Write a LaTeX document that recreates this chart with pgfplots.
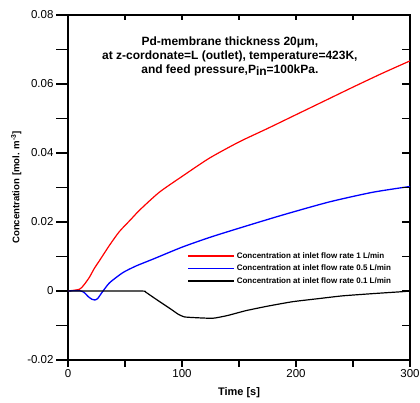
\documentclass[border=0pt]{standalone}
\usepackage{fontspec}
\setmainfont{Liberation Sans}
\usepackage{pgfplots}
\pgfplotsset{compat=1.18}

\tikzset{tickline/.style={draw=black, line width=1.2pt}}

\begin{document}
\begin{tikzpicture}
\begin{axis}[
  width=342pt, height=345pt, scale only axis,
  xmin=0, xmax=300, ymin=-0.02, ymax=0.08,
  clip=false,
  xtick={0,100,200,300},
  ytick={-0.02,0,0.02,0.04,0.06,0.08},
  xticklabels={0,100,200,300},
  yticklabels={-0.02,0,0.02,0.04,0.06,0.08},
  scaled ticks=false,
  major tick length=0pt,
  tick style={draw=none},
  axis line style={line width=1.4pt},
  ticklabel style={font=\fontsize{11.5}{13}\selectfont},
  yticklabel style={xshift=-11pt},
  xticklabel style={yshift=-6pt},
  xlabel={\textbf{Time [s]}},
  xlabel style={font=\bfseries\fontsize{11}{13}\selectfont, yshift=-3pt},
  ylabel={\textbf{Concentration [mol. m\textsuperscript{-3}]}},
  ylabel style={font=\bfseries\fontsize{9.6}{12}\selectfont, yshift=-1pt},
  legend style={at={(axis cs:102,0.0124)}, anchor=north west, draw=none,
    fill=none, font=\bfseries\fontsize{8}{10}\selectfont, row sep=1.2pt},
  legend cell align=left,
  legend image code/.code={\draw[#1] (0pt,0pt) -- (46pt,0pt);},
]

\addplot[red, line width=1.2pt, smooth, tension=0.4] coordinates {
  (0,0) (5,0.0002) (10,0.0005) (12,0.0010) (15,0.0022) (19,0.0041)
  (23,0.0065) (28,0.0090) (36.5,0.0133) (45,0.0172) (55,0.0207)
  (63,0.0235) (80,0.0286) (100,0.0332) (124,0.0385) (150,0.0432)
  (175,0.0471) (200,0.0511) (225,0.0551) (250,0.0591) (275,0.0630)
  (300,0.0667)
};
\addlegendentry{Concentration at inlet flow rate 1 L/min}

\addplot[blue, line width=1.3pt, smooth, tension=0.4] coordinates {
  (0,0) (10,0.0001) (14,-0.0004) (18,-0.0017) (21,-0.0024) (23.5,-0.0026)
  (26,-0.0022) (29,-0.0008) (31,0.0001) (36.5,0.0024) (48,0.0053)
  (60,0.0073) (75,0.0093) (100,0.0127) (124,0.0155) (150,0.0182)
  (188,0.0220) (229,0.0258) (267,0.0286) (300,0.0303)
};
\addlegendentry{Concentration at inlet flow rate 0.5 L/min}

\addplot[black, line width=1.2pt, smooth, tension=0.3] coordinates {
  (0,0) (64,0) (68,-0.0003) (72,-0.0012) (80,-0.0030) (90,-0.0052)
  (97,-0.0068) (102,-0.0075) (110,-0.0077) (127,-0.0079) (140,-0.0071)
  (156,-0.0057) (175,-0.0044) (197,-0.0031) (220,-0.0022) (241,-0.0014)
  (270,-0.0007) (293,-0.0002) (300,0)
};
\addlegendentry{Concentration at inlet flow rate 0.1 L/min}

% tick marks: outward on bottom and left, inward on top and right
\pgfplotsinvokeforeach{0,50,100,150,200,250,300}{
  \path[tickline] (axis cs:#1,-0.02) -- ++(0pt,-7pt);
  \path[tickline] (axis cs:#1,0.08) -- ++(0pt,-5pt);
}
\pgfplotsinvokeforeach{-0.02,-0.01,0,0.01,0.02,0.03,0.04,0.05,0.06,0.07,0.08}{
  \path[tickline] (axis cs:0,#1) -- ++(-12pt,0pt);
  \path[tickline] (axis cs:300,#1) -- ++(-8pt,0pt);
}

\node[font=\bfseries\fontsize{12}{14}\selectfont, align=center]
  at (axis cs:142,0.0680)
  {Pd-membrane thickness 20μm,\\
   at z-cordonate=L (outlet), temperature=423K,\\
   and feed pressure,P\raisebox{-0.35ex}{in}=100kPa.};
\end{axis}

\pgfresetboundingbox
\path[use as bounding box] (-68pt,-42pt) rectangle (352pt,360pt);
\end{tikzpicture}
\end{document}
